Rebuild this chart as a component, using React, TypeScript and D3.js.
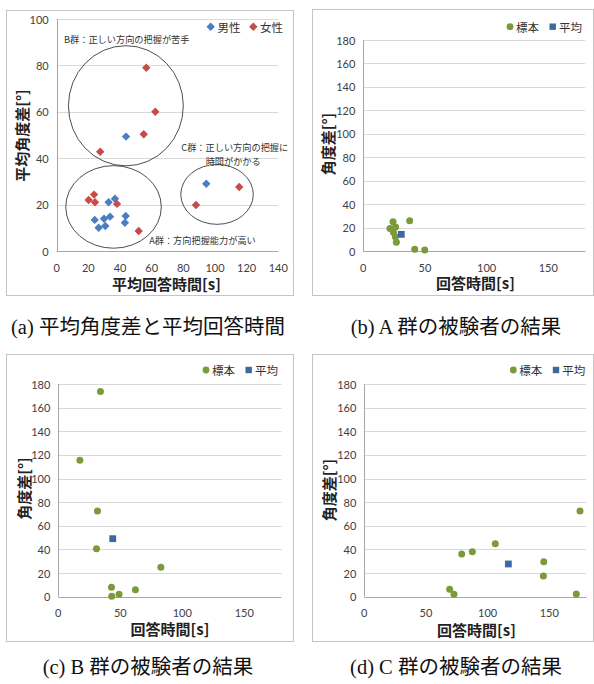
import React from 'react';
import * as d3 from 'd3';

// (a) mean response time [s] vs mean angle error [deg]
const maleMean = [
  [43.8, 49.3], [94.5, 29.0], [36.8, 22.5], [32.8, 21.0], [43.6, 15.1], [33.7, 14.8],
  [29.9, 13.9], [24.0, 13.4], [43.1, 12.2], [30.7, 10.8], [26.5, 10.0],
];
const femaleMean = [
  [56.6, 79.0], [62.3, 60.0], [55.0, 50.3], [27.5, 42.8], [23.6, 24.3], [20.2, 22.0],
  [24.2, 21.0], [38.1, 20.3], [51.8, 8.6], [115.3, 27.6], [88.0, 19.8],
];
// group circles drawn on (a), in data units
const groupEllipses = [
  { cx: 43.7, cy: 62.6, rx: 36.3, ry: 25.9 },
  { cx: 35.9, cy: 19.0, rx: 30.2, ry: 17.8 },
  { cx: 101.3, cy: 24.4, rx: 22.9, ry: 12.9 },
];
const groupNotes = [
  { x: 4.6, y: 91.4, anchor: 'start', text: 'B群：正しい方向の把握が苦手' },
  { x: 112.5, y: 44.8, anchor: 'middle', text: 'C群：正しい方向の把握に' },
  { x: 111.5, y: 38.6, anchor: 'middle', text: '時間がかかる' },
  { x: 58.4, y: 4.6, anchor: 'start', text: 'A群：方向把握能力が高い' },
];

// (b)(c)(d) samples and mean per group
const samplesA = [
  [24.1, 25.0], [21.6, 19.3], [26.2, 20.5], [24.4, 15.9], [26.0, 12.2],
  [26.8, 7.4], [37.6, 25.9], [41.7, 1.4], [49.8, 0.9],
];
const meanA = [[30.8, 14.2]];
const samplesB = [
  [34.0, 173.6], [17.4, 115.5], [31.6, 72.6], [30.8, 40.6], [82.7, 24.9],
  [42.9, 8.0], [43.1, 0.3], [49.0, 2.0], [62.2, 5.9],
];
const meanB = [[43.9, 49.1]];
const samplesC = [
  [69.2, 6.2], [72.7, 2.0], [79.0, 36.2], [87.6, 38.1], [106.2, 44.9],
  [145.5, 29.6], [145.2, 17.5], [171.9, 2.3], [174.9, 72.6],
];
const meanC = [[116.8, 27.7]];

const ticksA_x = [0, 20, 40, 60, 80, 100, 120, 140];
const ticksA_y = [0, 20, 40, 60, 80, 100];
const ticksG_x = [0, 50, 100, 150];
const ticksG_y = [0, 20, 40, 60, 80, 100, 120, 140, 160, 180];

const captions = [
  '(a) 平均角度差と平均回答時間',
  '(b) A 群の被験者の結果',
  '(c) B 群の被験者の結果',
  '(d) C 群の被験者の結果',
];

const SANS = "Lato, 'Noto Sans CJK JP', sans-serif";
const CJK = "'Noto Sans CJK JP', sans-serif";
const SERIF = "'Liberation Serif', 'Noto Sans CJK JP', serif";

const BLUE = '#4a7ec0';
const RED = '#c84b48';
const GREEN = '#7a9a3b';
const NAVY = '#3d69a3';
const diamond = 'M0,-4.2L4.2,0L0,4.2L-4.2,0Z';

type Scale = d3.ScaleLinear<number, number>;

interface PanelProps {
  frame: [number, number, number, number];
  xRange: [number, number];
  yRange: [number, number];
  xMax: number;
  yMax: number;
  xTicks: number[];
  yTicks: number[];
  xTitle: string;
  yTitle: string;
  xTitleAt: [number, number];
  yTitleAt: [number, number];
  children: (x: Scale, y: Scale) => React.ReactNode;
}

function Panel(p: PanelProps) {
  const x = d3.scaleLinear().domain([0, p.xMax]).range(p.xRange);
  const y = d3.scaleLinear().domain([0, p.yMax]).range(p.yRange);
  const [fx0, fy0, fx1, fy1] = p.frame;
  return (
    <g>
      <rect x={fx0 + 0.5} y={fy0 + 0.5} width={fx1 - fx0} height={fy1 - fy0} fill="#fff" stroke="#c4c4c4" />
      {p.yTicks.map((t) => (
        <g key={'y' + t}>
          {t > 0 && (
            <line x1={x(0)} x2={x(p.xMax)} y1={Math.round(y(t)) + 0.5} y2={Math.round(y(t)) + 0.5} stroke="#d9d9d9" />
          )}
          <text x={x(0) - 8} y={y(t)} textAnchor="end" dominantBaseline="central" fontSize={11} fill="#404040" fontFamily={SANS}>
            {t}
          </text>
        </g>
      ))}
      <line x1={x(0)} x2={x(p.xMax)} y1={Math.round(y(0)) + 0.5} y2={Math.round(y(0)) + 0.5} stroke="#a6a6a6" />
      <line x1={Math.round(x(0)) + 0.5} x2={Math.round(x(0)) + 0.5} y1={y(0)} y2={y(p.yMax)} stroke="#a6a6a6" />
      {p.xTicks.map((t) => (
        <text key={'x' + t} x={x(t)} y={y(0) + 16} textAnchor="middle" dominantBaseline="central" fontSize={11} fill="#404040" fontFamily={SANS}>
          {t}
        </text>
      ))}
      <text x={p.xTitleAt[0]} y={p.xTitleAt[1]} textAnchor="middle" dominantBaseline="central" fontSize={15} fontWeight="bold" fill="#222" fontFamily={CJK}>
        {p.xTitle}
      </text>
      <text
        transform={`translate(${p.yTitleAt[0]},${p.yTitleAt[1]}) rotate(-90)`}
        textAnchor="middle"
        dominantBaseline="central"
        fontSize={15}
        fontWeight="bold"
        fill="#222"
        fontFamily={CJK}
      >
        {p.yTitle}
      </text>
      {p.children(x, y)}
    </g>
  );
}

function GroupMarks({ x, y, samples, mean, legendAt }: { x: Scale; y: Scale; samples: number[][]; mean: number[][]; legendAt: [number, number] }) {
  const [lx, ly] = legendAt;
  return (
    <g>
      {samples.map((d, i) => (
        <circle key={i} cx={x(d[0])} cy={y(d[1])} r={3.5} fill={GREEN} />
      ))}
      {mean.map((d, i) => (
        <rect key={'m' + i} x={x(d[0]) - 3.4} y={y(d[1]) - 3.4} width={6.8} height={6.8} fill={NAVY} />
      ))}
      <circle cx={lx} cy={ly} r={3.4} fill={GREEN} />
      <text x={lx + 6} y={ly} dominantBaseline="central" fontSize={11.5} fill="#333" fontFamily={CJK}>標本</text>
      <rect x={lx + 39.5} y={ly - 3.2} width={6.4} height={6.4} fill={NAVY} />
      <text x={lx + 49} y={ly} dominantBaseline="central" fontSize={11.5} fill="#333" fontFamily={CJK}>平均</text>
    </g>
  );
}

export default function App() {
  return (
    <svg width={594} height={684} style={{ position: 'absolute', left: 0, top: 0, background: '#fff' }}>
      <Panel
        frame={[6, 10, 293, 295]}
        xRange={[56.7, 278.3]}
        yRange={[251, 19]}
        xMax={140}
        yMax={100}
        xTicks={ticksA_x}
        yTicks={ticksA_y}
        xTitle="平均回答時間[s]"
        yTitle="平均角度差[°]"
        xTitleAt={[166.5, 283]}
        yTitleAt={[21.5, 135.5]}
      >
        {(x, y) => (
          <g>
            {groupEllipses.map((e, i) => (
              <ellipse
                key={i}
                cx={x(e.cx)}
                cy={y(e.cy)}
                rx={x(e.cx + e.rx) - x(e.cx)}
                ry={y(e.cy) - y(e.cy + e.ry)}
                fill="none"
                stroke="#3a3a3a"
                strokeWidth={0.9}
              />
            ))}
            {groupNotes.map((n, i) => (
              <text key={i} x={x(n.x)} y={y(n.y)} textAnchor={n.anchor as any} dominantBaseline="central" fontSize={9.2} fill="#333" fontFamily={CJK}>
                {n.text}
              </text>
            ))}
            {maleMean.map((d, i) => (
              <path key={'m' + i} d={diamond} transform={`translate(${x(d[0])},${y(d[1])})`} fill={BLUE} />
            ))}
            {femaleMean.map((d, i) => (
              <path key={'f' + i} d={diamond} transform={`translate(${x(d[0])},${y(d[1])})`} fill={RED} />
            ))}
            <path d={diamond} transform="translate(210.7,26.7)" fill={BLUE} />
            <text x={217.5} y={26.7} dominantBaseline="central" fontSize={11.5} fill="#333" fontFamily={CJK}>男性</text>
            <path d={diamond} transform="translate(253.3,26.7)" fill={RED} />
            <text x={260} y={26.7} dominantBaseline="central" fontSize={11.5} fill="#333" fontFamily={CJK}>女性</text>
          </g>
        )}
      </Panel>

      <Panel
        frame={[312, 9, 593, 295]}
        xRange={[363.3, 585.3]}
        yRange={[251, 40]}
        xMax={180}
        yMax={180}
        xTicks={ticksG_x}
        yTicks={ticksG_y}
        xTitle="回答時間[s]"
        yTitle="角度差[°]"
        xTitleAt={[475.5, 282.5]}
        yTitleAt={[327, 144]}
      >
        {(x, y) => <GroupMarks x={x} y={y} samples={samplesA} mean={meanA} legendAt={[510, 26.7]} />}
      </Panel>

      <Panel
        frame={[6, 354, 293, 641]}
        xRange={[58.3, 281.5]}
        yRange={[596.7, 384]}
        xMax={180}
        yMax={180}
        xTicks={ticksG_x}
        yTicks={ticksG_y}
        xTitle="回答時間[s]"
        yTitle="角度差[°]"
        xTitleAt={[170, 628.5]}
        yTitleAt={[23.5, 488.5]}
      >
        {(x, y) => <GroupMarks x={x} y={y} samples={samplesB} mean={meanB} legendAt={[206, 370]} />}
      </Panel>

      <Panel
        frame={[312, 354, 593, 641]}
        xRange={[364.3, 586.3]}
        yRange={[596.7, 384]}
        xMax={180}
        yMax={180}
        xTicks={ticksG_x}
        yTicks={ticksG_y}
        xTitle="回答時間[s]"
        yTitle="角度差[°]"
        xTitleAt={[476.5, 629]}
        yTitleAt={[328, 490]}
      >
        {(x, y) => <GroupMarks x={x} y={y} samples={samplesC} mean={meanC} legendAt={[513.3, 370]} />}
      </Panel>

      {captions.map((c, i) => (
        <text
          key={i}
          x={i % 2 === 0 ? 148 : 456}
          y={i < 2 ? 327 : 667}
          textAnchor="middle"
          dominantBaseline="central"
          fontSize={20.5}
          fill="#111"
          fontFamily={SERIF}
        >
          {c}
        </text>
      ))}
    </svg>
  );
}
